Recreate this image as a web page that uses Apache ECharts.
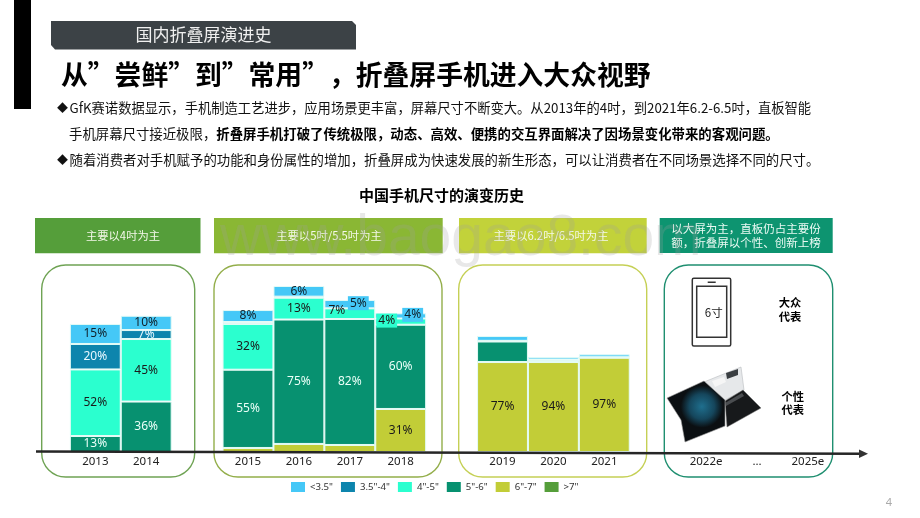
<!DOCTYPE html>
<html><head><meta charset="utf-8">
<style>html,body{margin:0;padding:0;background:#fff}#c{width:920px;height:518px}</style>
<script src="https://cdn.jsdelivr.net/npm/echarts@6/dist/echarts.min.js"></script>
</head><body><div id="c"></div>
<script>
// Data: drawn segment heights (the source chart's heights do not follow its printed labels)
const categories = ['2013','2014','','2015','2016','2017','2018','','2019','2020','2021','','2022e','...','2025e'];
const seriesNames = ['>7"','6"-7"','5"-6"','4"-5"','3.5"-4"','<3.5"'];
const legendOrder = ['<3.5"','3.5"-4"','4"-5"','5"-6"','6"-7"','>7"'];
const over7   = [null,null,null,null,null,null,null,null,null,null,null,null,null,null,null];
const s6to7   = [null,null,null,3.1,6.2,5.4,33.1,null,69.2,69.2,72.5,null,null,null,null];
const s5to6   = [12.3,38.8,null,60.2,95.7,96.9,64.8,null,15.8,1.3,null,null,null,null,null];
const s4to5   = [51.2,48.1,null,35.2,16.8,8.2,4.8,null,0.5,0.6,0.4,null,null,null,null];
const s35to4  = [19.6,6.9,null,1.5,0.8,null,null,null,null,null,null,null,null,null,null];
const under35 = [15.4,11,null,9.2,8.2,6.4,4,null,3.7,1.9,2.2,null,null,null,null];
// Printed percentage labels
const label7    = [null,null,null,null,null,null,null,null,null,null,null,null,null,null,null];
const label6to7 = [null,null,null,null,null,null,'31%',null,'77%','94%','97%',null,null,null,null];
const label5to6 = ['13%','36%',null,'55%','75%','82%','60%',null,null,null,null,null,null,null,null];
const label4to5 = ['52%','45%',null,'32%','13%','7%','4%',null,null,null,null,null,null,null,null];
const label35to4= ['20%','7%',null,null,null,null,null,null,null,null,null,null,null,null,null];
const labelU35  = ['15%','10%',null,'8%','6%','5%','4%',null,null,null,null,null,null,null,null];

const allValues = [over7,s6to7,s5to6,s4to5,s35to4,under35];
const allLabels = [label7,label6to7,label5to6,label4to5,label35to4,labelU35];
const colors = ['#559e3a','#c2cd37','#079170','#2bffcf','#0d85ad','#45c8f7'];
const labelColors = ['#fff','#1a1a1a','#eafff8','#1a1a1a','#e8f8ff','#10202a'];
const FONT = '"Noto Sans","Noto Sans CJK SC",sans-serif';
const CJK = '"Noto Sans CJK SC","Noto Sans",sans-serif';
// individually shifted labels [seriesIndex, categoryIndex, dx, dy, background]
const shifted = [
  [3,5,-13,-3,null],[5,5,8.5,-1,colors[5]],
  [3,6,-14,-1,colors[3]],[5,6,12,-1,colors[5]]
];
const series = seriesNames.map((name,si)=>({
  name,type:'bar',stack:'s',barWidth:'100%',barCategoryGap:0,
  itemStyle:{color:colors[si],borderColor:'#e4fbf6',borderWidth:1},
  emphasis:{disabled:true},
  data:allValues[si].map((v,ci)=>{
    const text=allLabels[si][ci];
    const d={value:v};
    if(text){
      const sh=shifted.find(a=>a[0]===si&&a[1]===ci);
      d.label={show:true,position:'inside',formatter:text,fontSize:12,fontFamily:FONT,
        color:labelColors[si],offset:sh?[sh[2],sh[3]]:[0,0]};
      if(sh&&sh[4]){d.label.backgroundColor=sh[4];d.label.padding=[1,2];}
    }
    return d;
  })
}));
const T=(x,y,text,o={})=>({type:'text',x,y,z:o.z||5,silent:true,style:Object.assign({
  text,fill:o.fill||'#111',fontSize:o.size||13.4,fontWeight:o.w||'normal',fontFamily:CJK,
  textAlign:o.a||'left',textVerticalAlign:'middle',verticalAlign:'middle'},o.style||{})});
const R=(x,y,w,h,o={})=>({type:'rect',silent:true,z:o.z||0,shape:{x,y,width:w,height:h,r:o.r||0},
  style:{fill:o.fill||'none',stroke:o.stroke||'none',lineWidth:o.lw||0}});
const P=(pts,fill,z=1,extra={})=>({type:'polygon',silent:true,z,shape:{points:pts},style:Object.assign({fill},extra)});
const boxes=[[35,165.5,'#559e3a',123,'主要以4吋为主'],[214,228.7,'#8ab734',329,'主要以5吋/5.5吋为主'],
             [459,187.7,'#c2d23a',551,'主要以6.2吋/6.5吋为主']];
const frames=[[41.7,153,'#6fa354'],[214,228,'#93ae4a'],[458.7,188,'#c5d055'],[664.3,168.4,'#1f8f70']];
const glow={type:'radial',x:0.6,y:0.42,r:0.36,colorStops:[{offset:0,color:'#1f6f8e'},{offset:0.6,color:'#15465c'},{offset:1,color:'#0b0f12'}]};
const graphic=[
  R(14,0,17,109,{fill:'#000'}),
  P([[51,21],[352,21],[356,25],[356,49.5],[55,49.5],[51,45]],'#3c4246'),
  T(203.5,34.5,'国内折叠屏演进史',{fill:'#f0f0f0',size:17,a:'center'}),
  T(61,75,'从”尝鲜”到”常用”，折叠屏手机进入大众视野',{size:26.8,w:'bold',fill:'#000'}),
  T(57,108,'◆',{size:11}),T(57,160,'◆',{size:11}),
  T(69.5,108,'GfK赛诺数据显示，手机制造工艺进步，应用场景更丰富，屏幕尺寸不断变大。从2013年的4吋，到2021年6.2-6.5吋，直板智能',{size:13.3}),
  T(69,134,'{a|手机屏幕尺寸接近极限，}{b|折叠屏手机打破了传统极限，动态、高效、便携的交互界面解决了因场景变化带来的客观问题。}',
    {style:{rich:{a:{fontSize:13.4,fontFamily:CJK,fill:'#111'},b:{fontSize:13.4,fontFamily:CJK,fontWeight:'bold',fill:'#000'}}}}),
  T(69.5,160,'随着消费者对手机赋予的功能和身份属性的增加，折叠屏成为快速发展的新生形态，可以让消费者在不同场景选择不同的尺寸。'),
  T(441.5,195,'中国手机尺寸的演变历史',{size:15,w:'bold',a:'center',fill:'#000'}),
  ...boxes.map(b=>R(b[0],218,b[1],35.3,{fill:b[2]})),
  ...boxes.map(b=>T(b[3],235.5,b[4],{size:11.3,fill:'#f4f8ea',a:'center'})),
  R(659.7,218,173,35,{fill:'#0d9470'}),
  T(746,229,'以大屏为主，直板仍占主要份',{size:11.5,fill:'#eafaf3',a:'center'}),
  T(746,243,'额，折叠屏以个性、创新上榜',{size:11.5,fill:'#eafaf3',a:'center'}),
  ...frames.map(f=>R(f[0],265,f[1],212,{stroke:f[2],lw:1.4,r:24,z:1})),
  // phone icon
  R(692.3,278.3,38.4,67.7,{stroke:'#333',lw:1.5,r:1.5}),
  R(696.7,286.3,30,51,{stroke:'#333',lw:1.5}),
  R(707.7,281.5,8,1.5,{fill:'#333'}),
  T(713.7,313,'6寸',{size:11.5,a:'center',fill:'#222'}),
  T(790,303,'大众',{size:11.3,w:'bold',a:'center',fill:'#000'}),
  T(790,316.7,'代表',{size:11.3,w:'bold',a:'center',fill:'#000'}),
  T(792.7,396.7,'个性',{size:11.3,w:'bold',a:'center',fill:'#000'}),
  T(792.7,410,'代表',{size:11.3,w:'bold',a:'center',fill:'#000'}),
  // foldable phone illustration
  P([[704,382],[741,367],[744,390],[723,401]],'#e6e8ea',1,{stroke:'#b8bcc0',lineWidth:0.6}),
  P([[712,381],[724,377],[726,382],[715,387]],'#f6f6f6',2),
  P([[726,373],[738,369],[738,375],[727,379]],'#3a3e42',2),
  P([[725,401],[743,390],[761,408],[727,427]],'#17191b',1,{stroke:'#777',lineWidth:0.5}),
  P([[725,403],[742,393],[744,396],[726,406]],'#4a4d50',2),
  P([[667,398],[704,381],[725,400],[725,426],[685,442],[681,420]],glow,2,{stroke:'#9a9a9a',lineWidth:0.6}),
  // timeline
  {type:'line',silent:true,z:10,shape:{x1:36,y1:451.6,x2:862,y2:453.7},style:{stroke:'#262626',lineWidth:2.5}},
  P([[859,449.5],[868,453.7],[859,458]],'#333',10),
  T(889,503,'4',{size:11,fill:'#aaa',a:'center',style:{fontFamily:FONT}}),
  {type:'text',x:220,y:239,z:30,silent:true,style:{text:'www.baogao8.com',fontFamily:'"Liberation Sans",sans-serif',fontSize:57,
    fill:'rgba(160,160,160,0.24)',verticalAlign:'middle'}}
];
const chart=echarts.init(document.getElementById('c'),null,{renderer:'canvas'});
chart.setOption({
  animation:false,backgroundColor:'#fff',
  grid:{left:69.85,right:86.65,top:257,bottom:66},
  xAxis:{type:'category',data:categories,axisLine:{show:false},axisTick:{show:false},
    axisLabel:{interval:0,margin:4,fontSize:11.5,color:'#222',fontFamily:FONT}},
  yAxis:{type:'value',min:0,max:150,show:false},
  legend:{data:legendOrder,left:291,top:482,padding:0,itemWidth:14,itemHeight:10,itemGap:8,icon:'rect',selectedMode:false,
    textStyle:{fontSize:9.6,color:'#333',fontFamily:FONT},itemStyle:{borderWidth:0}},
  series,graphic
});
</script></body></html>
